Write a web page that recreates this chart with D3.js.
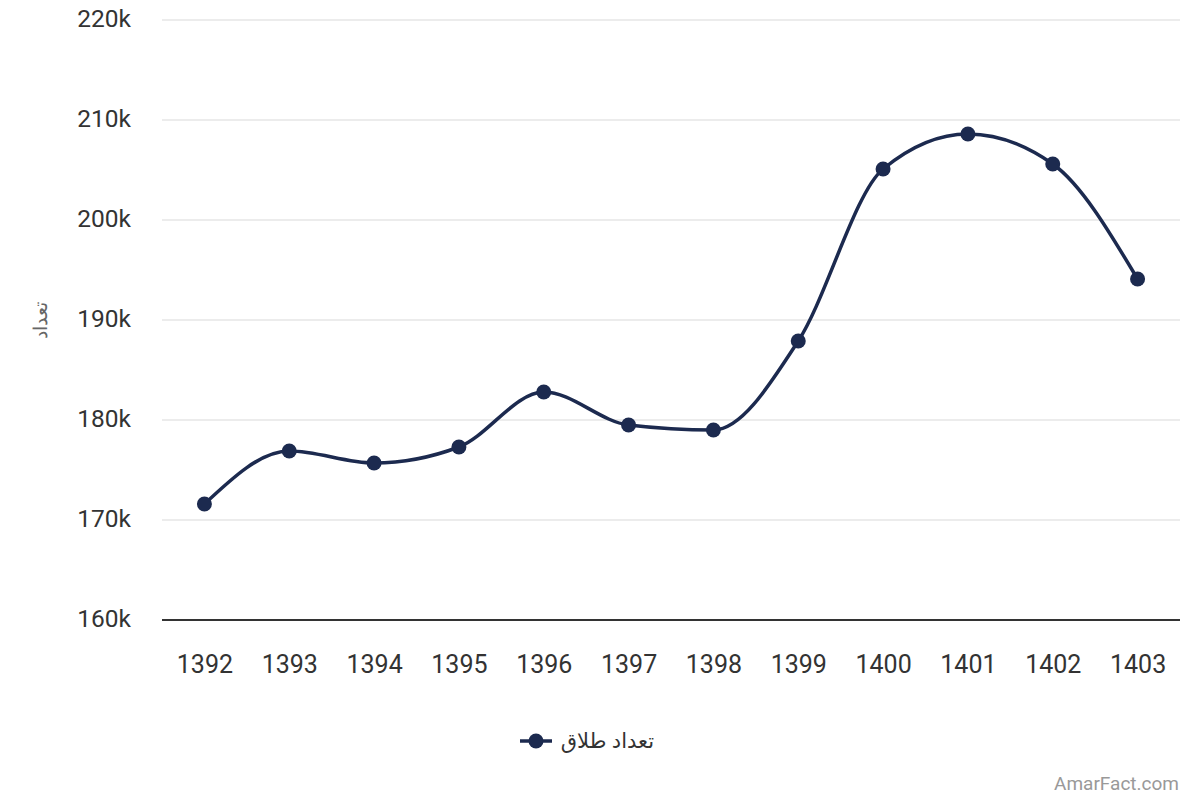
<!DOCTYPE html>
<html>
<head>
<meta charset="utf-8">
<script src="https://cdn.jsdelivr.net/npm/d3@7"></script>
<style>
  html, body { margin: 0; padding: 0; background: #fff; }
  svg { display: block; font-family: Roboto, sans-serif; }
</style>
</head>
<body>
<div id="chart"></div>
<script>
const years = ['1392', '1393', '1394', '1395', '1396', '1397', '1398', '1399', '1400', '1401', '1402', '1403'];
const divorces = [171600, 176900, 175700, 177300, 182800, 179500, 179000, 187900, 205100, 208600, 205600, 194100];
const yTicks = [160000, 170000, 180000, 190000, 200000, 210000, 220000];
const seriesName = 'تعداد طلاق';
const yTitle = 'تعداد';

const width = 1200;
const height = 800;
const plotLeft = 162, plotRight = 1180, plotTop = 20, plotBottom = 620;
const color = '#1c2a4f';

const svg = d3.select('#chart')
  .append('svg')
    .attr('width', width)
    .attr('height', height)
    .attr('viewBox', `0 0 ${width} ${height}`);

const x = d3.scalePoint()
  .domain(years)
  .range([plotLeft, plotRight])
  .padding(0.5);

const y = d3.scaleLinear()
  .domain([160000, 220000])
  .range([plotBottom, plotTop]);

// grid
svg.append('g')
  .selectAll('line')
  .data(yTicks.filter(d => d > 160000))
  .join('line')
    .attr('x1', plotLeft)
    .attr('x2', plotRight)
    .attr('y1', d => y(d))
    .attr('y2', d => y(d))
    .attr('stroke', '#e6e6e6')
    .attr('stroke-width', 1.5);

// y labels
svg.append('g')
  .selectAll('text')
  .data(yTicks)
  .join('text')
    .attr('x', 131)
    .attr('y', d => y(d))
    .attr('dy', '0.3em')
    .attr('text-anchor', 'end')
    .attr('font-size', 24.5)
    .attr('fill', '#333')
    .text(d => d3.format('d')(d / 1000) + 'k');

// x axis line
svg.append('line')
  .attr('x1', plotLeft)
  .attr('x2', plotRight)
  .attr('y1', plotBottom)
  .attr('y2', plotBottom)
  .attr('stroke', '#333')
  .attr('stroke-width', 2);

const xAxis = svg.append('g')
  .attr('transform', `translate(0,${plotBottom})`)
  .call(d3.axisBottom(x).tickSize(0).tickPadding(35));
xAxis.select('.domain').remove();
xAxis.selectAll('text')
  .attr('font-size', 25)
  .attr('font-family', 'Roboto, sans-serif')
  .attr('fill', '#333');

// y title
svg.append('text')
  .attr('transform', `translate(40,320) rotate(-90)`)
  .attr('text-anchor', 'middle')
  .attr('dy', '0.35em')
  .attr('font-size', 19)
  .attr('fill', '#666')
  .text(yTitle);

// line
const line = d3.line()
  .x((d, i) => x(years[i]))
  .y(d => y(d))
  .curve(d3.curveMonotoneX);

svg.append('path')
  .datum(divorces)
  .attr('d', line)
  .attr('fill', 'none')
  .attr('stroke', color)
  .attr('stroke-width', 3.5);

svg.append('g')
  .selectAll('circle')
  .data(divorces)
  .join('circle')
    .attr('cx', (d, i) => x(years[i]))
    .attr('cy', d => y(d))
    .attr('r', 7.5)
    .attr('fill', color);

// legend
const lg = svg.append('g').attr('transform', 'translate(536,741)');
lg.append('line')
  .attr('x1', -16).attr('x2', 16)
  .attr('stroke', color)
  .attr('stroke-width', 3.5);
lg.append('circle')
  .attr('r', 7.5)
  .attr('fill', color);
lg.append('text')
  .attr('x', 118)
  .attr('dy', '0.35em')
  .attr('text-anchor', 'end')
  .attr('font-size', 21)
  .attr('fill', '#333')
  .attr('font-family', '"Noto Sans", "DejaVu Sans", sans-serif')
  .text(seriesName);

// credit
svg.append('text')
  .attr('x', 1179)
  .attr('y', 790)
  .attr('text-anchor', 'end')
  .attr('font-size', 19)
  .attr('fill', '#999')
  .text('AmarFact.com');
</script>
</body>
</html>
